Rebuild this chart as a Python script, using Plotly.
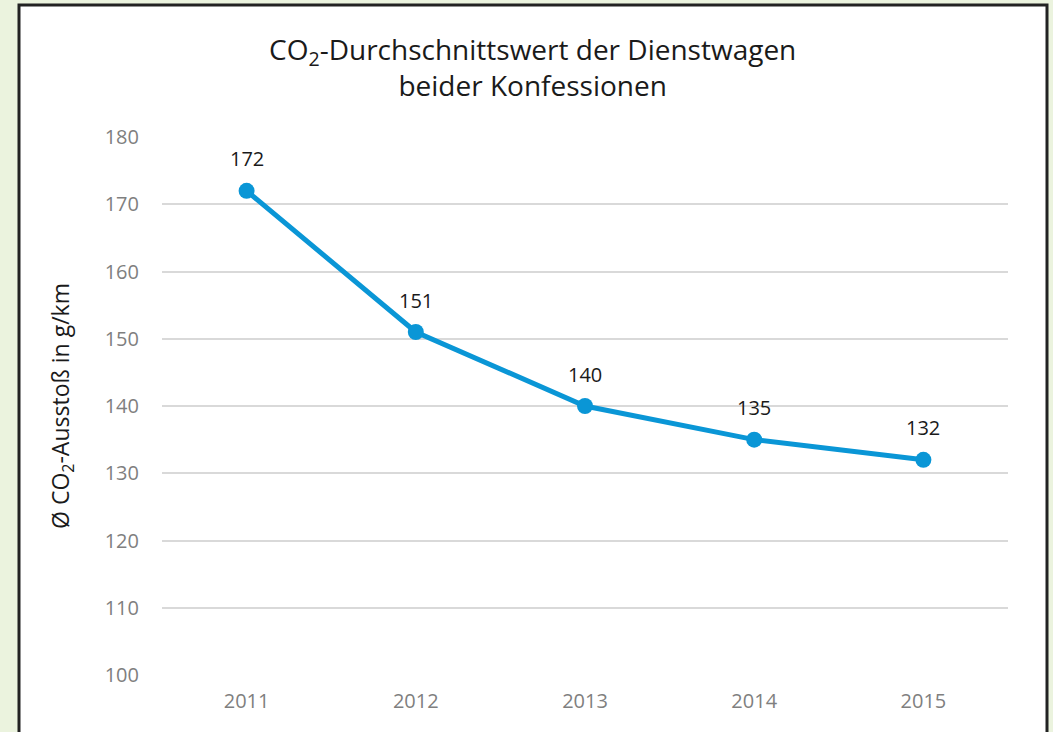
import plotly.graph_objects as go

years = ["2011", "2012", "2013", "2014", "2015"]
co2_values = [172, 151, 140, 135, 132]
y_ticks = [100, 110, 120, 130, 140, 150, 160, 170, 180]

W, H = 1053, 732
L, R, T, B = 162, 45, 137, 57
pw, ph = W - L - R, H - T - B

def px_x(x):
    return (x - L) / pw

def px_y(y):
    return (H - B - y) / ph

FONT = "Open Sans"
BLUE = "#0A96D6"

fig = go.Figure()
fig.add_trace(go.Scatter(
    x=years, y=co2_values,
    mode="lines+markers",
    line=dict(color=BLUE, width=5),
    marker=dict(color=BLUE, size=16),
    cliponaxis=False,
    showlegend=False,
))

for i, v in enumerate(co2_values):
    fig.add_annotation(x=i, y=v, xref="x", yref="y", text=str(v),
                       showarrow=False, yshift=32,
                       xanchor="center", yanchor="middle",
                       font=dict(family=FONT, size=20, color="#1a1a1a"))

fig.add_shape(type="rect", xref="paper", yref="paper",
              x0=px_x(19), x1=px_x(1047), y0=px_y(760), y1=px_y(5),
              fillcolor="white", line=dict(color="#222222", width=3),
              layer="below")

fig.add_annotation(
    xref="paper", yref="paper", x=px_x(532), y=px_y(67),
    xanchor="center", yanchor="middle", showarrow=False, align="center",
    text="CO<sub>2</sub>-Durchschnittswert der Dienstwagen<br>beider Konfessionen",
    font=dict(family=FONT, size=28, color="#1a1a1a"),
)

fig.update_layout(
    width=W, height=H,
    margin=dict(l=L, r=R, t=T, b=B),
    paper_bgcolor="#EBF3DE",
    plot_bgcolor="rgba(0,0,0,0)",
    font=dict(family=FONT, color="#7f7f7f"),
    xaxis=dict(
        type="category", range=[-0.5, 4.5],
        showgrid=False, zeroline=False, showline=False,
        tickfont=dict(size=20, color="#7f7f7f"),
        ticks="", ticklabelstandoff=12,
    ),
    yaxis=dict(
        range=[100, 180], tickvals=y_ticks,
        showgrid=True, gridcolor="#d9d9d9", gridwidth=1.5,
        zeroline=False, showline=False,
        tickfont=dict(size=20, color="#7f7f7f"),
        ticks="", ticklabelstandoff=22,
        title=dict(text="Ø CO<sub>2</sub>-Ausstoß in g/km",
                   font=dict(size=23, color="#1a1a1a"), standoff=28),
    ),
)

fig.write_html("out.html", config={"displayModeBar": False},
               post_script="document.body.style.margin='0';")
